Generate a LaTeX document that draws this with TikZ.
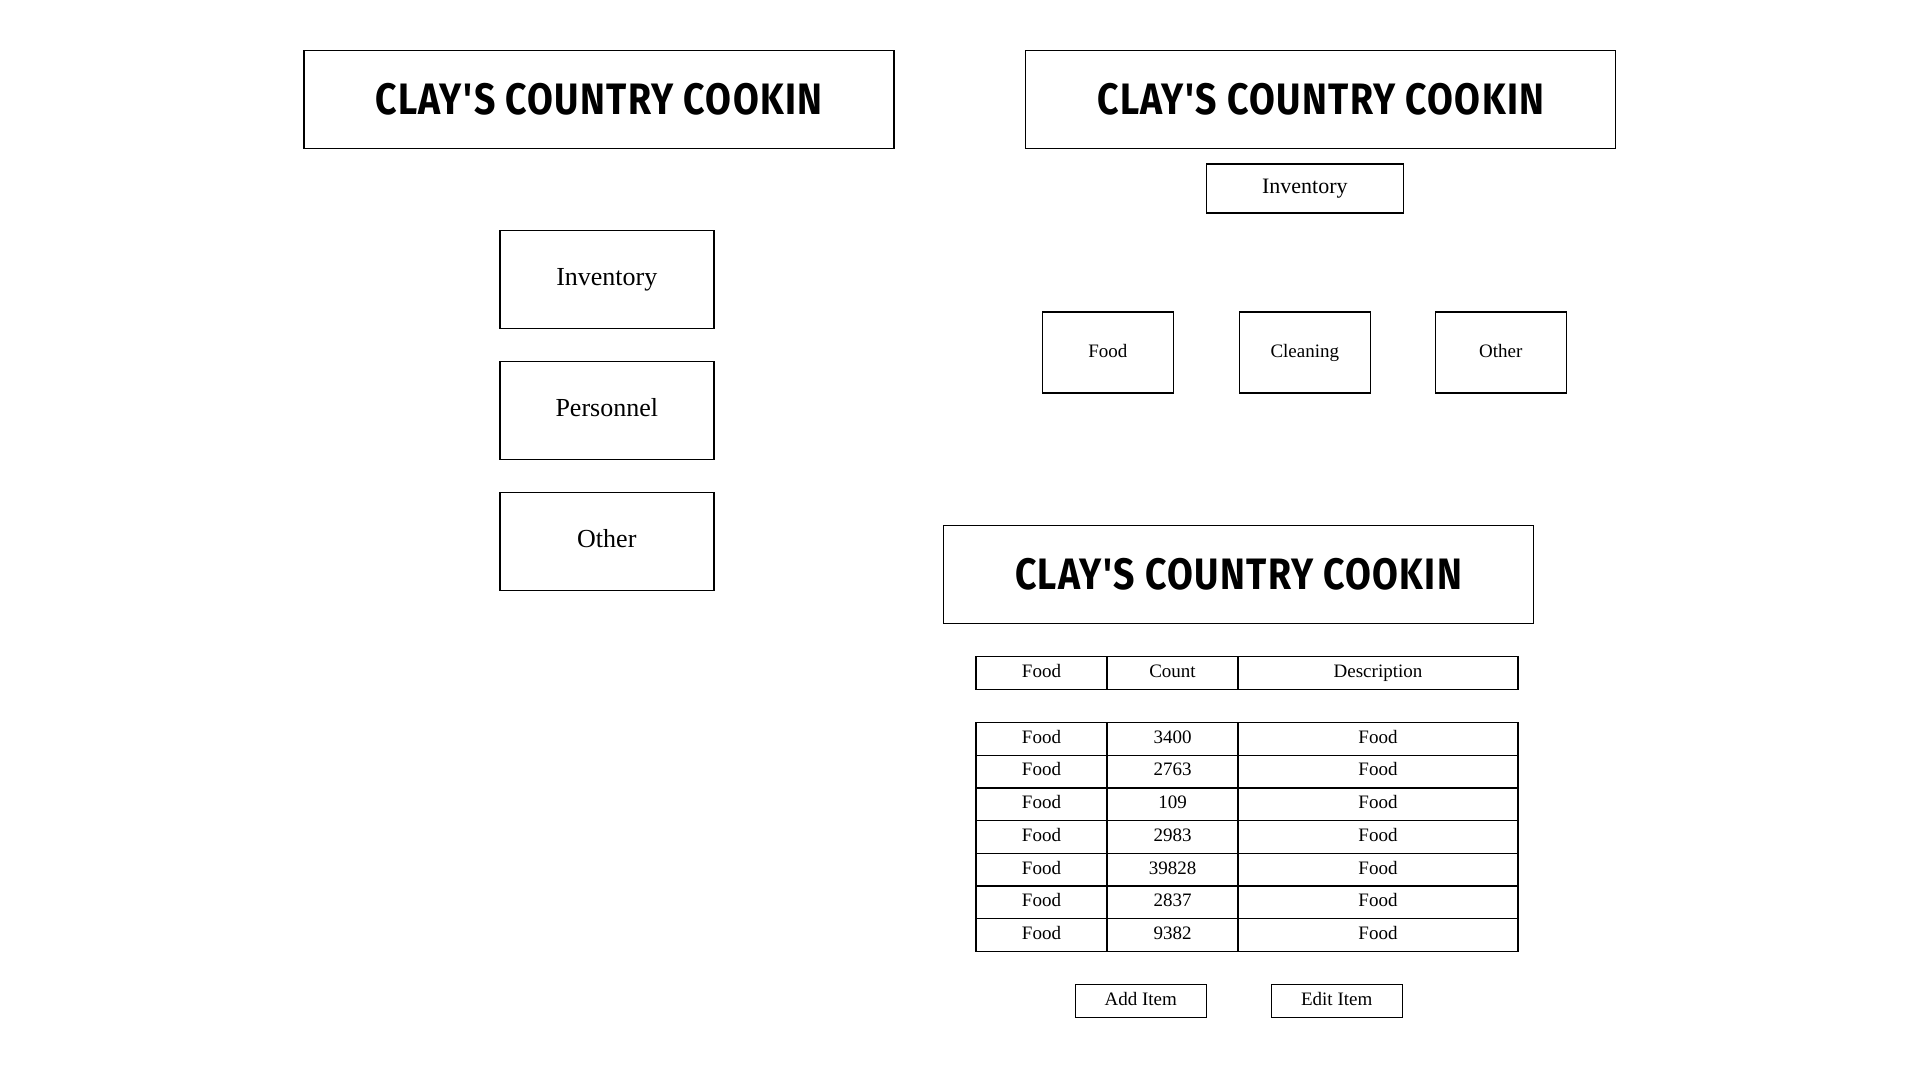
\documentclass[tikz,border=0pt]{standalone}
\usepackage{fontspec}
\setmainfont{Liberation Serif}
\newfontfamily\titlefont[FakeStretch=0.85, LetterSpace=3]{Fira Sans}
\usetikzlibrary{positioning}

\tikzset{
	pane/.style={draw, line width=1.4pt, inner sep=0pt, outer sep=0pt},
	titlebox/.style={pane, minimum width=590pt, minimum height=98pt, text height=30pt, text depth=0pt, font=\titlefont\bfseries\fontsize{44}{44}\selectfont},
	menubox/.style={pane, minimum width=214pt, minimum height=98pt, text height=17.7pt, text depth=5.7pt, font=\fontsize{26}{26}\selectfont},
	headbox/.style={pane, minimum width=197pt, minimum height=49pt, text height=15pt, text depth=4.8pt, font=\fontsize{22}{22}\selectfont},
	catbox/.style={pane, minimum width=131pt, minimum height=81pt, text height=13pt, text depth=4.2pt, font=\fontsize{19}{19}\selectfont},
	cell/.style={pane, minimum height=32.7pt, text height=13pt, text depth=4.2pt, font=\fontsize{19}{19}\selectfont},
	narrowcell/.style={minimum width=131pt},
	widecell/.style={minimum width=280pt},
	btn/.style={pane, minimum width=131pt, minimum height=33pt, text height=13pt, text depth=4.2pt, font=\fontsize{19}{19}\selectfont}
}

\begin{document}
\begin{tikzpicture}[x=1pt, y=-1pt]
	\useasboundingbox[fill=white] (0,0) rectangle (1920,1080);
	% main menu
	\node[titlebox] (title1) at (598.8,99.2) {CLAY'S COUNTRY COOKIN};
	\node[menubox] (inv) at (606.8,279.2) {Inventory};
	\node[menubox, below=33pt of inv] (pers) {Personnel};
	\node[menubox, below=33pt of pers] (other) {Other};
	% inventory categories
	\node[titlebox] (title2) at (1320.7,99.2) {CLAY'S COUNTRY COOKIN};
	\node[headbox] (invhead) at (1304.8,188.6) {Inventory};
	\node[catbox, below=99pt of invhead] (clean) {Cleaning};
	\node[catbox, left=66pt of clean] (food) {Food};
	\node[catbox, right=65pt of clean] (othercat) {Other};
	% item list
	\node[titlebox] (title3) at (1238.6,574.3) {CLAY'S COUNTRY COOKIN};
	\node[cell, narrowcell, minimum height=33pt] (hfood) at (1041.5,672.9) {Food};
	\node[cell, narrowcell, minimum height=33pt, right=0pt of hfood] (hcount) {Count};
	\node[cell, widecell, minimum height=33pt, right=0pt of hcount] (hdesc) {Description};
	\foreach \cnt [count=\r] in {3400,2763,109,2983,39828,2837,9382}{
		\node[cell, narrowcell] (food\r) at (1041.5,706.15+32.7*\r) {Food};
		\node[cell, narrowcell, right=0pt of food\r] (count\r) {\cnt};
		\node[cell, widecell, right=0pt of count\r] (desc\r) {Food};
	}
	\node[btn] (add) at (1140.7,1001) {Add Item};
	\node[btn, right=65pt of add] (edit) {Edit Item};
\end{tikzpicture}
\end{document}
